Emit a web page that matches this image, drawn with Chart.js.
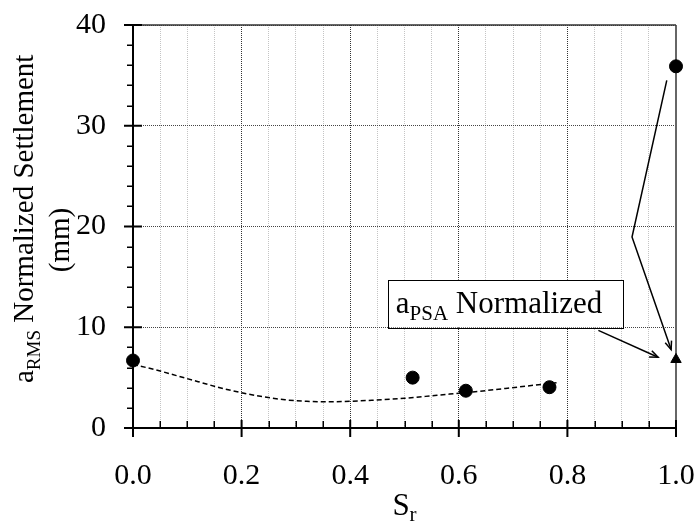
<!DOCTYPE html>
<html>
<head>
<meta charset="utf-8">
<script src="https://cdn.jsdelivr.net/npm/chart.js@4.4.0/dist/chart.umd.min.js"></script>
<style>
html, body { margin: 0; padding: 0; background: #fff; }
</style>
</head>
<body>
<canvas id="chSettle" width="699" height="521"></canvas>
<script>
// measured points
const srMeasured = [0, 0.515, 0.613, 0.767, 1.0]
const rmsMeasured = [6.7, 5.0, 3.7, 4.05, 35.9]
// PSA normalized value
const srPsa = [1.0]
const psaValue = [6.8]
// dashed trend line
const srTrend = [0, 0.04, 0.08, 0.12, 0.16, 0.2, 0.24, 0.28, 0.32, 0.36, 0.44, 0.5, 0.56, 0.63, 0.69, 0.78]
const rmsTrend = [6.3, 5.8, 5.2, 4.6, 4.0, 3.5, 3.1, 2.8, 2.65, 2.6, 2.75, 2.95, 3.25, 3.6, 3.95, 4.5]
// tick labels
const xTickLabels = ['0.0', '0.2', '0.4', '0.6', '0.8', '1.0']
const yTickLabels = ['0', '10', '20', '30', '40']

const serif = "'Liberation Serif', 'Times New Roman', serif"
const chSettle = document.getElementById('chSettle')

const isMajorX = v => Math.abs(v * 5 - Math.round(v * 5)) < 1e-6

// callout geometry in data units
const callBox = { x0: 0.470, y0: 14.72, x1: 0.902, y1: 9.99 }
const callLabelAt = { x: 0.484, y: 11.4 }
const arrowA = [[0.983, 34.5], [0.919, 18.95], [0.991, 7.78]]
const arrowB = [[0.857, 9.69], [0.967, 7.02]]

function subText(ctx, x, y, main, sub, size, subSize, drop) {
	ctx.font = size + 'px ' + serif
	ctx.fillText(main, x, y)
	const w = ctx.measureText(main).width
	ctx.font = subSize + 'px ' + serif
	ctx.fillText(sub, x + w, y + drop)
	return w + ctx.measureText(sub).width
}

function arrowHead(ctx, p0, p1) {
	const ang = Math.atan2(p1[1] - p0[1], p1[0] - p0[0])
	const len = 9, spread = 0.38
	ctx.beginPath()
	ctx.moveTo(p1[0] - len * Math.cos(ang - spread), p1[1] - len * Math.sin(ang - spread))
	ctx.lineTo(p1[0], p1[1])
	ctx.lineTo(p1[0] - len * Math.cos(ang + spread), p1[1] - len * Math.sin(ang + spread))
	ctx.stroke()
}

// drop the label overhang so layout padding alone sets the plot box
const noOverhang = s => {
	s.paddingTop = 0
	s.paddingBottom = 0
	s.paddingLeft = 0
	s.paddingRight = 0
}

const frame = {
	id: 'frame',
	beforeDatasetsDraw(chart) {
		const { ctx, chartArea: a, scales: { x, y } } = chart
		ctx.save()
		ctx.strokeStyle = '#000'
		// minor ticks
		ctx.lineWidth = 1.5
		ctx.beginPath()
		for (let k = 1; k < 20; k++) {
			if (k % 4 === 0) continue
			const px = Math.round(x.getPixelForValue(k * 0.05)) + 0.25
			ctx.moveTo(px, a.bottom)
			ctx.lineTo(px, a.bottom - 7)
		}
		for (let k = 1; k < 20; k++) {
			if (k % 5 === 0) continue
			const py = Math.round(y.getPixelForValue(k * 2)) + 0.25
			ctx.moveTo(a.left, py)
			ctx.lineTo(a.left - 6, py)
		}
		ctx.stroke()
		// frame
		ctx.lineWidth = 2
		ctx.strokeStyle = '#666'
		ctx.beginPath(); ctx.moveTo(a.right, a.top); ctx.lineTo(a.right, a.bottom); ctx.stroke()
		ctx.lineWidth = 1.5
		ctx.strokeStyle = '#333'
		ctx.beginPath(); ctx.moveTo(a.left, a.top); ctx.lineTo(a.right, a.top); ctx.stroke()
		ctx.lineWidth = 2
		ctx.strokeStyle = '#000'
		ctx.beginPath()
		ctx.moveTo(a.left, a.top); ctx.lineTo(a.left, a.bottom)
		ctx.moveTo(a.left, a.bottom); ctx.lineTo(a.right, a.bottom)
		ctx.stroke()
		// major ticks
		ctx.beginPath()
		xTickLabels.forEach((t, i) => {
			const px = x.getPixelForValue(i * 0.2)
			ctx.moveTo(px, a.bottom - 8)
			ctx.lineTo(px, a.bottom + 9)
		})
		yTickLabels.forEach((t, i) => {
			const py = y.getPixelForValue(i * 10)
			ctx.moveTo(a.left - 9, py)
			ctx.lineTo(a.left + 9, py)
		})
		ctx.stroke()
		ctx.restore()
	},
	afterDatasetsDraw(chart) {
		const { ctx, scales: { x, y } } = chart
		const P = p => [x.getPixelForValue(p[0]), y.getPixelForValue(p[1])]
		ctx.save()
		ctx.strokeStyle = '#000'
		ctx.fillStyle = '#000'
		ctx.lineWidth = 1.5
		// arrows
		const a = arrowA.map(P)
		ctx.beginPath()
		ctx.moveTo(a[0][0], a[0][1]); ctx.lineTo(a[1][0], a[1][1]); ctx.lineTo(a[2][0], a[2][1])
		ctx.stroke()
		arrowHead(ctx, a[1], a[2])
		const b = arrowB.map(P)
		ctx.beginPath()
		ctx.moveTo(b[0][0], b[0][1]); ctx.lineTo(b[1][0], b[1][1])
		ctx.stroke()
		arrowHead(ctx, b[0], b[1])
		// callout box
		const [bx0, by0] = P([callBox.x0, callBox.y0])
		const [bx1, by1] = P([callBox.x1, callBox.y1])
		ctx.fillStyle = '#fff'
		ctx.fillRect(bx0, by0, bx1 - bx0, by1 - by0)
		ctx.lineWidth = 1
		ctx.strokeStyle = '#000'
		ctx.strokeRect(Math.round(bx0) + 0.5, Math.round(by0) + 0.5, Math.round(bx1 - bx0), Math.round(by1 - by0))
		ctx.fillStyle = '#000'
		ctx.textBaseline = 'alphabetic'
		ctx.textAlign = 'left'
		const [tx, ty] = P([callLabelAt.x, callLabelAt.y])
		const w = subText(ctx, tx, ty, 'a', 'PSA', 31, 21, 7)
		ctx.font = '31px ' + serif
		ctx.fillText(' Normalized', tx + w, ty)
		ctx.restore()
	},
	afterDraw(chart) {
		const { ctx, chartArea: a } = chart
		ctx.save()
		ctx.fillStyle = '#000'
		ctx.textBaseline = 'alphabetic'
		ctx.textAlign = 'left'
		// x title
		ctx.font = '31px ' + serif
		const sw = ctx.measureText('S').width
		ctx.font = '21px ' + serif
		const rw = ctx.measureText('r').width
		const cx = (a.left + a.right) / 2 - (sw + rw) / 2
		subText(ctx, cx, 515, 'S', 'r', 31, 21, 6)
		// y title
		ctx.translate(33, 383)
		ctx.rotate(-Math.PI / 2)
		const w = subText(ctx, 0, 0, 'a', 'RMS', 29, 19, 7)
		ctx.font = '29px ' + serif
		ctx.fillText(' Normalized Settlement', w, 0)
		ctx.textAlign = 'center'
		ctx.fillText('(mm)', 383 - 240, 36)
		ctx.restore()
	},
}

new Chart(chSettle, {
	type: 'scatter',
	data: {
		datasets: [
			{
				type: 'line',
				data: srTrend.map((v, i) => ({ x: v, y: rmsTrend[i] })),
				borderColor: '#000',
				borderWidth: 1.5,
				borderDash: [5, 3],
				pointRadius: 0,
				cubicInterpolationMode: 'monotone',
				fill: false,
			},
			{
				data: srMeasured.map((v, i) => ({ x: v, y: rmsMeasured[i] })),
				backgroundColor: '#000',
				borderColor: '#000',
				pointRadius: 6.5,
				clip: false,
			},
			{
				data: srPsa.map((v, i) => ({ x: v, y: psaValue[i] })),
				backgroundColor: '#000',
				borderColor: '#000',
				pointStyle: 'triangle',
				pointRadius: 6,
				clip: false,
			},
		],
	},
	options: {
		responsive: false,
		animation: false,
		layout: { padding: { top: 25, right: 23, left: 0, bottom: 0 } },
		plugins: {
			legend: { display: false },
			tooltip: { enabled: false },
		},
		scales: {
			x: {
				type: 'linear',
				min: 0,
				max: 1,
				afterFit: s => { s.height = 93; noOverhang(s) },
				ticks: {
					stepSize: 0.05,
					autoSkip: false,
					maxRotation: 0,
					padding: 30,
					color: '#000',
					font: { family: serif, size: 30 },
					callback: v => (isMajorX(v) ? xTickLabels[Math.round(v * 5)] : ''),
				},
				grid: {
					drawTicks: false,
					lineWidth: 1,
					color: c => (isMajorX(c.tick.value) ? '#333' : '#c4c4c4'),
				},
				border: { display: false, dash: [1, 1] },
			},
			y: {
				min: 0,
				max: 40,
				afterFit: s => { s.width = 133; noOverhang(s) },
				ticks: {
					stepSize: 10,
					padding: 27,
					color: '#000',
					font: { family: serif, size: 30 },
					callback: (v, i) => yTickLabels[Math.round(v / 10)],
				},
				grid: { drawTicks: false, lineWidth: 1, color: '#444' },
				border: { display: false, dash: [1, 1] },
			},
		},
	},
	plugins: [frame],
})
</script>
</body>
</html>
